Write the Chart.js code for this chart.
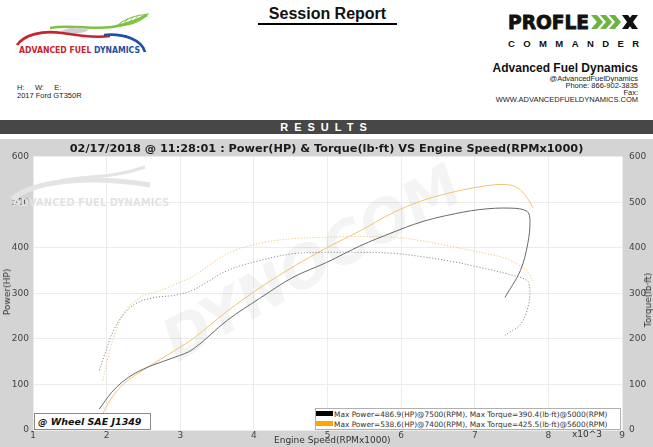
<!DOCTYPE html>
<html>
<head>
<meta charset="utf-8">
<title>Session Report</title>
<script src="https://cdn.jsdelivr.net/npm/chart.js@4.4.0/dist/chart.umd.min.js"></script>
<style>
  html, body { margin: 0; padding: 0; }
  body {
    width: 653px; height: 447px; position: relative; overflow: hidden;
    background: #fff; font-family: "Liberation Sans", Arial, sans-serif; color: #111;
  }
  .abs { position: absolute; white-space: nowrap; }

  /* header */
  .session { left: 258px; top: 5px; width: 139px; text-align: center; font-weight: bold; font-size: 16px;
             line-height: 18px; border-bottom: 2px solid #000; }
  .addr { right: 15px; text-align: right; font-size: 7.5px; line-height: 8px; color: #222; }
  .addr-name { right: 15px; top: 61px; font-weight: bold; font-size: 12px; }
  .car { left: 17px; font-size: 7.5px; line-height: 8px; color: #222; }

  .results { left: 0; top: 120px; width: 653px; height: 14px; background: #474747; color: #fff;
             text-align: center; font-weight: bold; font-size: 11px; line-height: 14px; letter-spacing: 6px; }

  /* chart panel */
  .panel { left: 0; top: 139px; width: 653px; height: 308px; background: #d4d4d4; }
  .chart-wrap { position: absolute; left: 0; top: 0; width: 653px; height: 308px; }

  .axis-title { font-family: "DejaVu Sans", Verdana, sans-serif; font-size: 9px; color: #333; }
  .rot { transform: translate(-50%, -50%) rotate(-90deg); }

  .wheel { left: 34px; top: 413px; width: 112px; height: 15px; background: #fff; border: 1px solid #8a8a8a;
           font-family: "DejaVu Sans", Verdana, sans-serif; font-weight: bold; font-style: italic;
           font-size: 9.5px; line-height: 15px; padding-left: 3px; }
  .legend { left: 315px; top: 408px; width: 304px; height: 20px; background: #fff; border: 1px solid #b0b0b0; }
  .legend .row { position: absolute; left: 0; height: 10px; font-family: "DejaVu Sans", Verdana, sans-serif;
                 font-size: 7.4px; line-height: 10px; color: #333; }
  .legend .sw { display: inline-block; width: 17px; height: 5px; margin-right: 1px; vertical-align: 1px; }
</style>
</head>
<body>

<!-- ── Header ──────────────────────────────────────────────────────────────── -->
<svg class="abs" style="left:0;top:0" width="160" height="62">
  <path d="M50 28 C 70 24, 92 30, 112 27 C 126 25, 138 20, 147 15" stroke="#7dc243" stroke-width="2.6" fill="none"/>
  <path d="M117 26 C 124 19, 136 15, 148 14 C 143 20, 132 26, 117 26 Z" fill="none" stroke="#7dc243" stroke-width="1.1"/>
  <path d="M124 24 L 128 18 M 129 23 L 133 17 M 134 21 L 138 16" stroke="#7dc243" stroke-width="0.8"/>
  <path d="M61 31 C 68 27, 82 27, 89 30 C 82 34, 70 35, 61 33 Z" fill="#cfcfcf"/>
  <path d="M17 45 C 24 35, 42 30, 62 33 C 80 36, 96 38, 110 36" stroke="#c8232c" stroke-width="2.6" fill="none"/>
  <path d="M104 35 C 124 33, 142 40, 145 52" stroke="#1f4f9f" stroke-width="2.6" fill="none"/>
  <text x="19" y="53" font-family="DejaVu Sans, Verdana, sans-serif" font-size="8" font-weight="bold"
        textLength="121" lengthAdjust="spacingAndGlyphs"><tspan fill="#c8232c">ADVANCED FUEL </tspan><tspan fill="#1f4f9f">DYNAMICS</tspan></text>
</svg>

<div class="abs session">Session Report</div>

<svg class="abs" style="left:500px;top:8px" width="150" height="44">
  <text x="8" y="21" font-family="DejaVu Sans, Verdana, sans-serif" font-size="20" font-weight="bold" fill="#111"
        stroke="#111" stroke-width="0.9" textLength="81" lengthAdjust="spacingAndGlyphs">PROFLE</text>
  <polygon points="91,7 97,7 103,14 97,21 91,21 97,14" fill="#6cb33f"/>
  <polygon points="100,7 106,7 112,14 106,21 100,21 106,14" fill="#6cb33f"/>
  <polygon points="109,7 115,7 121,14 115,21 109,21 115,14" fill="#6cb33f"/>
  <polygon points="122,7 128,7 138,21 132,21" fill="#111"/>
  <polygon points="132,7 138,7 128,21 122,21" fill="#111"/>
  <text x="8" y="39" font-family="Liberation Sans, Arial, sans-serif" font-size="9.5" font-weight="bold" fill="#111"
        textLength="131" lengthAdjust="spacing">COMMANDER</text>
</svg>

<div class="abs addr-name">Advanced Fuel Dynamics</div>
<div class="abs addr" style="top:75px">@AdvancedFuelDynamics</div>
<div class="abs addr" style="top:82px">Phone: 866-902-3835</div>
<div class="abs addr" style="top:89px">Fax:</div>
<div class="abs addr" style="top:96px">WWW.ADVANCEDFUELDYNAMICS.COM</div>

<div class="abs car" style="top:84px">H:&nbsp;&nbsp;&nbsp;&nbsp;&nbsp;W:&nbsp;&nbsp;&nbsp;&nbsp;&nbsp;E:</div>
<div class="abs car" style="top:92px">2017 Ford GT350R</div>

<div class="abs results">RESULTS</div>

<!-- ── Chart panel ─────────────────────────────────────────────────────────── -->
<div class="abs panel">
  <div class="chart-wrap"><canvas id="dyno"></canvas></div>
</div>

<div class="abs axis-title rot" style="left:7px;top:292px">Power(HP)</div>
<div class="abs axis-title rot" style="left:648px;top:300px">Torque(lb·ft)</div>
<div class="abs axis-title" style="left:274px;top:435px">Engine Speed(RPMx1000)</div>
<div class="abs axis-title" style="left:572px;top:429px">x10^3</div>

<div class="abs wheel">@ Wheel SAE J1349</div>
<div class="abs legend" id="legend"></div>

<script>
/* ── Dyno sheet — Power & Torque vs Engine Speed ─────────────────────────── */

// Run 1 (black)
const RPM_RUN1    = [1.90, 1.98, 2.07, 2.21, 2.39, 2.62, 2.93, 3.17, 3.64, 4.08, 4.53, 4.99, 5.44, 5.89, 6.26, 6.62, 7.07, 7.50, 7.71, 7.75, 7.72, 7.62, 7.41];
const POWER_RUN1  = [46, 64, 83, 105, 125, 142, 160, 177, 241, 289, 335, 368, 404, 434, 456, 471, 484, 487, 480, 460, 409, 350, 291];
const TORQUE_RUN1 = [131, 169, 210, 250, 277, 290, 296, 307, 350, 372, 387, 390, 390, 388, 381, 372, 357, 340, 328, 307, 268, 232, 208];

// Run 2 (orange)
const RPM_RUN2    = [1.95, 2.02, 2.11, 2.25, 2.48, 2.73, 2.93, 3.17, 3.64, 4.08, 4.53, 4.99, 5.44, 5.89, 6.26, 6.62, 7.07, 7.40, 7.58, 7.71, 7.79];
const POWER_RUN2  = [37, 58, 80, 104, 130, 155, 175, 200, 261, 312, 358, 400, 437, 477, 502, 519, 534, 539, 532, 510, 488];
const TORQUE_RUN2 = [109, 160, 210, 261, 293, 306, 320, 337, 387, 410, 420, 423, 425, 423, 416, 405, 390, 378, 364, 349, 328];

const LEGEND_TEXT = [
  'Max Power=486.9(HP)@7500(RPM), Max Torque=390.4(lb·ft)@5000(RPM)',
  'Max Power=538.6(HP)@7400(RPM), Max Torque=425.5(lb·ft)@5600(RPM)',
];
const RUN_COLORS = ['#000000', '#ffa500'];

const CHART_TITLE = '02/17/2018 @ 11:28:01 : Power(HP) & Torque(lb·ft) VS Engine Speed(RPMx1000)';

// ── Helpers ───────────────────────────────────────────────────────────────────
const pts = (xs, ys) => xs.map((x, i) => ({ x, y: ys[i] }));

function line(label, xs, ys, color, axis, dotted) {
  return {
    label, data: pts(xs, ys), yAxisID: axis,
    borderColor: color, borderWidth: 1,
    borderDash: dotted ? [1, 2] : [],
    pointRadius: 0, tension: 0.35, fill: false,
  };
}

// Legend box
document.getElementById('legend').innerHTML = LEGEND_TEXT.map((t, i) => `
  <div class="row" style="top:${i * 10 + 1}px"><span class="sw" style="background:${RUN_COLORS[i]}"></span>${t}</div>
`).join('');

// White plot area + faint watermarks
const backdrop = {
  id: 'backdrop',
  beforeDraw(chart) {
    const { ctx, chartArea: a } = chart;
    ctx.save();
    ctx.fillStyle = '#fff';
    ctx.fillRect(a.left, a.top, a.right - a.left, a.bottom - a.top);
    ctx.restore();
  },
  beforeDatasetsDraw(chart) {
    const { ctx } = chart;
    ctx.save();
    // AFD logo ghost
    ctx.strokeStyle = '#e4e4e4';
    ctx.lineWidth = 5;
    ctx.beginPath();
    ctx.moveTo(12, 60);
    ctx.bezierCurveTo(40, 38, 100, 38, 150, 46);
    ctx.stroke();
    ctx.lineWidth = 3;
    ctx.beginPath();
    ctx.moveTo(60, 42);
    ctx.bezierCurveTo(90, 36, 110, 40, 145, 28);
    ctx.stroke();
    ctx.fillStyle = '#e2e2e2';
    ctx.font = 'bold 10px "DejaVu Sans"';
    ctx.textBaseline = 'middle';
    ctx.fillText('ADVANCED FUEL DYNAMICS', 13, 64);
    // DYNOCOM ghost
    ctx.translate(314, 128);
    ctx.rotate(-0.52);
    ctx.fillStyle = 'rgba(0,0,0,0.045)';
    ctx.font = 'italic bold 58px "DejaVu Sans"';
    ctx.textAlign = 'center';
    ctx.fillText('DYNOCOM', 0, 0);
    ctx.restore();
  },
};

const TICK_FONT = { family: 'DejaVu Sans', size: 9 };

new Chart(document.getElementById('dyno'), {
  type: 'line',
  data: {
    datasets: [
      line('Power 1',  RPM_RUN1, POWER_RUN1,  '#6a6a6a', 'yP', false),
      line('Torque 1', RPM_RUN1, TORQUE_RUN1, '#7a7a7a', 'yT', true),
      line('Power 2',  RPM_RUN2, POWER_RUN2,  '#f1c56e', 'yP', false),
      line('Torque 2', RPM_RUN2, TORQUE_RUN2, '#efbf5c', 'yT', true),
    ],
  },
  options: {
    responsive: true, maintainAspectRatio: false, animation: false,
    layout: { padding: 0 },
    plugins: {
      legend: { display: false },
      tooltip: { enabled: false },
      title: {
        display: true, text: CHART_TITLE, color: '#1a1a1a',
        font: { family: 'DejaVu Sans', size: 11.3, weight: 'bold', lineHeight: 1.3 },
        padding: { top: 3, bottom: 0 },
      },
    },
    scales: {
      x: {
        type: 'linear', min: 1, max: 9,
        ticks: { stepSize: 1, font: TICK_FONT, color: '#444', padding: 0, maxRotation: 0 },
        grid: { color: '#ececec', drawTicks: false },
        border: { display: false },
        afterFit: s => { s.height = 17; },
      },
      yP: {
        position: 'left', min: 0, max: 600,
        ticks: { stepSize: 100, font: TICK_FONT, color: '#444', padding: 4 },
        grid: { color: '#ececec', drawTicks: false },
        border: { display: false },
        afterFit: s => { s.width = 33; },
      },
      yT: {
        position: 'right', min: 0, max: 600,
        ticks: { stepSize: 100, font: TICK_FONT, color: '#444', padding: 7 },
        grid: { drawOnChartArea: false, drawTicks: false },
        border: { display: false },
        afterFit: s => { s.width = 31; },
      },
    },
  },
  plugins: [backdrop],
});
</script>
</body>
</html>
